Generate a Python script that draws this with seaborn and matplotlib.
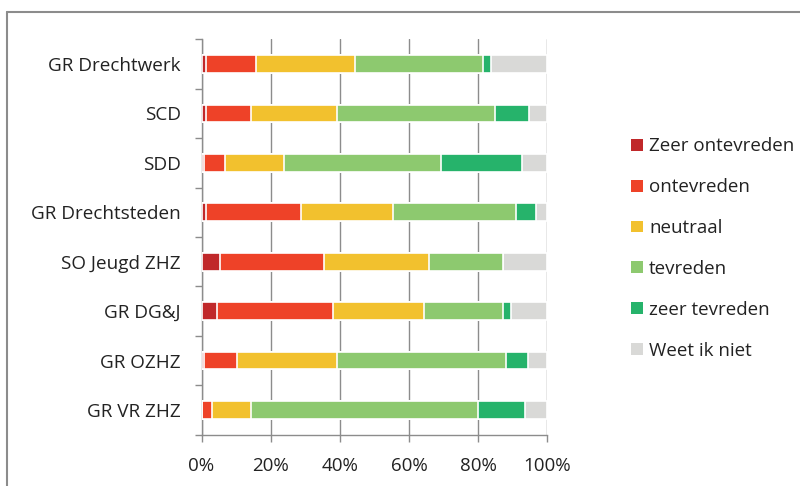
import matplotlib
matplotlib.use("Agg")
import matplotlib.pyplot as plt
import seaborn as sns
import pandas as pd
import numpy as np
from matplotlib.patches import Patch
from matplotlib.lines import Line2D

categories = ["GR Drechtwerk", "SCD", "SDD", "GR Drechtsteden", "SO Jeugd ZHZ",
              "GR DG&J", "GR OZHZ", "GR VR ZHZ"]
series_names = ["Zeer ontevreden", "ontevreden", "neutraal", "tevreden",
                "zeer tevreden", "Weet ik niet"]
zeer_ontevreden = [1.4, 1.4, 0.7, 1.4, 5.4, 4.6, 0.7, 0.0]
ontevreden      = [14.4, 12.9, 6.2, 27.5, 30.1, 33.3, 9.7, 3.1]
neutraal        = [28.6, 25.0, 17.0, 26.6, 30.4, 26.6, 28.9, 11.2]
tevreden        = [37.0, 45.7, 45.5, 35.5, 21.3, 22.7, 48.7, 65.7]
zeer_tevreden   = [2.2, 9.6, 23.3, 5.9, 0.0, 2.2, 6.5, 13.7]
weet_ik_niet    = [16.4, 5.4, 7.3, 3.1, 12.8, 10.6, 5.5, 6.3]
x_ticks = [0, 20, 40, 60, 80, 100]
x_labels = ["0%", "20%", "40%", "60%", "80%", "100%"]
colors = ["#C0282A", "#EE4228", "#F2C12E", "#8DC96F", "#26B36B", "#D9D9D7"]

series = [zeer_ontevreden, ontevreden, neutraal, tevreden, zeer_tevreden, weet_ik_niet]
df = pd.DataFrame({name: vals for name, vals in zip(series_names, series)})
df["category"] = categories
cum = df[series_names].cumsum(axis=1)
cum["category"] = categories

sns.set_theme(style="white")
plt.rcParams["font.family"] = ["Open Sans", "DejaVu Sans"]

fig = plt.figure(figsize=(8, 4.86), dpi=100)
ax = fig.add_axes([0.2519, 0.1056, 0.684 - 0.2519, 0.919 - 0.1056])

for name, col in reversed(list(zip(series_names, colors))):
    sns.barplot(data=cum, y="category", x=name, order=categories, orient="h",
                color=col, saturation=1, width=0.36, edgecolor="white",
                linewidth=1.2, ax=ax, zorder=3)

ax.set_xlim(0, 100)
ax.set_ylim(len(categories) - 0.5, -0.5)
ax.set_xlabel("")
ax.set_ylabel("")
ax.set_xticks(x_ticks)
ax.set_xticklabels(x_labels, fontsize=13.5, color="#222222")
ax.set_yticks(range(len(categories)))
ax.set_yticklabels(categories, fontsize=13.6, color="#222222")
ax.tick_params(axis="y", which="major", length=0, pad=15)
ax.set_yticks(np.arange(-0.5, len(categories)), minor=True)
ax.tick_params(axis="y", which="minor", length=5, width=1, color="#8c8c8c", left=True)
ax.tick_params(axis="x", which="major", length=5, width=1, color="#8c8c8c",
               bottom=True, pad=11)
ax.grid(axis="x", color="#8c8c8c", linewidth=1, zorder=0)
ax.set_axisbelow(True)
for s in ["top", "right"]:
    ax.spines[s].set_visible(False)
for s in ["left", "bottom"]:
    ax.spines[s].set_color("#8c8c8c")
    ax.spines[s].set_linewidth(1)

handles = [Patch(facecolor=c, edgecolor="none") for c in colors]
leg = fig.legend(handles, series_names, loc="upper left",
                 bbox_to_anchor=(0.768, 0.752), frameon=False, fontsize=13.5,
                 handlelength=0.6, handleheight=0.6, handletextpad=0.35,
                 labelspacing=1.22, labelcolor="#222222")

# outer chart frame
fig.add_artist(Line2D([7 / 800, 1.0], [1 - 12 / 486, 1 - 12 / 486],
                      transform=fig.transFigure, color="#8c8c8c", linewidth=1.5))
fig.add_artist(Line2D([7 / 800, 7 / 800], [0, 1 - 12 / 486],
                      transform=fig.transFigure, color="#8c8c8c", linewidth=1.5))

fig.savefig("out.png", dpi=100)
